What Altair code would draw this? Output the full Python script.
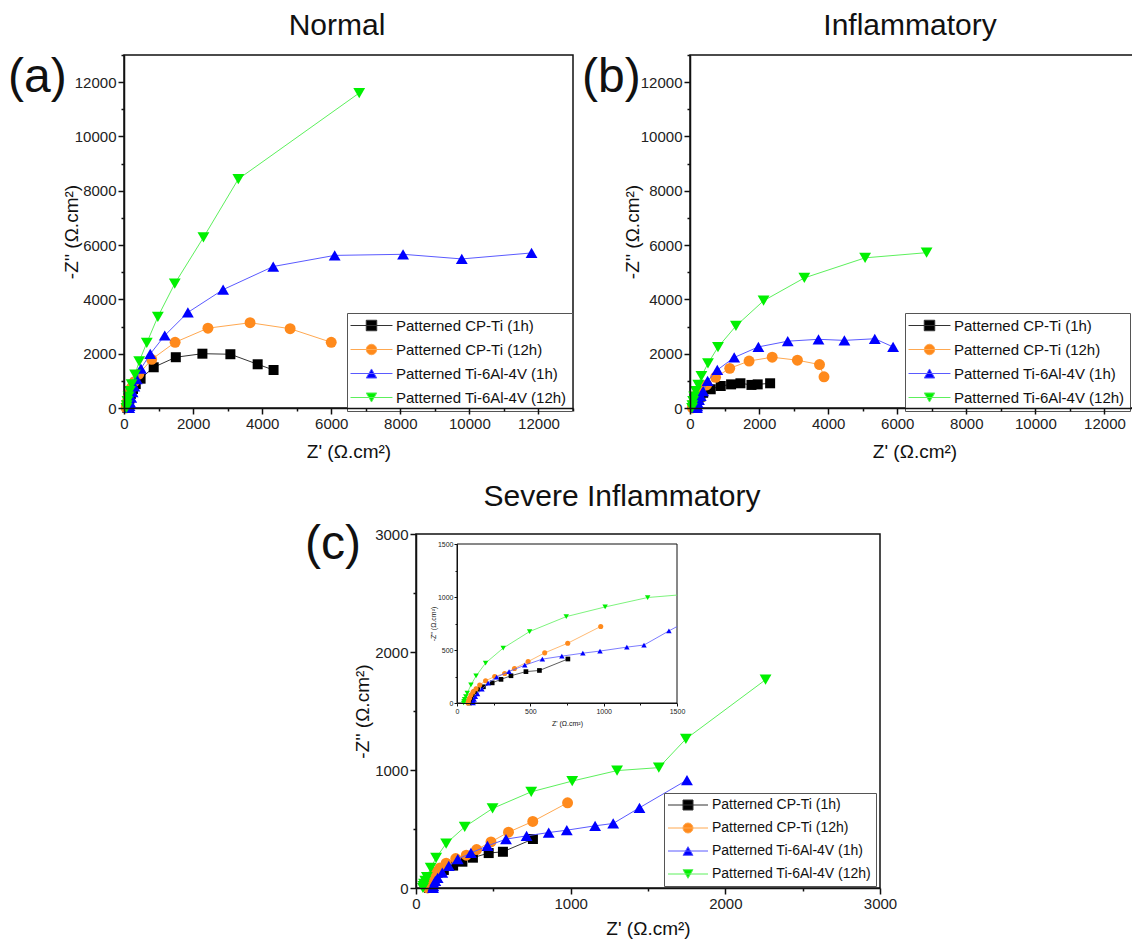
import altair as alt
import pandas as pd

SERIES = ["Patterned CP-Ti (1h)", "Patterned CP-Ti (12h)",
          "Patterned Ti-6Al-4V (1h)", "Patterned Ti-6Al-4V (12h)"]
MARK_COLORS = ["#000000", "#FF8A1C", "#0000FF", "#00F000"]
LINE_COLORS = ["#333333", "#FFA850", "#5A5AFF", "#5CF05C"]
SHAPES = ["square", "circle", "triangle-up", "triangle-down"]
LEG_PATHS = ["M-4,0H4M-1,-1H1V1H-1Z",
             "M-4,0H4M-1,0A1,1,0,1,1,1,0A1,1,0,1,1,-1,0Z",
             "M-4,0H4M0,-0.866L-1,0.866L1,0.866Z",
             "M-4,0H4M0,0.866L-1,-0.866L1,-0.866Z"]
PANEL_TITLES = ["Normal", "Inflammatory", "Severe Inflammatory"]
PANEL_LABELS = ["(a)", "(b)", "(c)"]
X_TITLE = "Z' (\u03a9.cm\u00b2)"
Y_TITLE = "-Z'' (\u03a9.cm\u00b2)"
FONT = "Liberation Sans"

# ---- Panel (a) Normal ----
a_x_cp1 = [100, 115, 135, 160, 200, 260, 340, 480, 860, 1500, 2270, 3080, 3870, 4330]
a_y_cp1 = [0, 80, 200, 350, 520, 700, 880, 1080, 1500, 1870, 2000, 1980, 1610, 1400]
a_x_cp12 = [60, 70, 90, 120, 160, 220, 300, 430, 800, 1480, 2430, 3650, 4810, 6000]
a_y_cp12 = [0, 90, 220, 380, 560, 760, 970, 1250, 1790, 2420, 2940, 3140, 2920, 2420]
a_x_ti1 = [150, 160, 180, 210, 250, 300, 370, 490, 760, 1180, 1850, 2870, 4320, 6100, 8080, 9780, 11800]
a_y_ti1 = [0, 80, 200, 380, 580, 800, 1060, 1450, 1990, 2670, 3520, 4360, 5210, 5620, 5660, 5490, 5710]
a_x_ti12 = [70, 80, 100, 130, 170, 220, 320, 440, 660, 980, 1470, 2300, 3310, 6810]
a_y_ti12 = [0, 100, 250, 420, 620, 870, 1230, 1720, 2400, 3360, 4580, 6280, 8430, 11600]

# ---- Panel (b) Inflammatory ----
b_x_cp1 = [150, 170, 200, 240, 300, 380, 600, 890, 1190, 1460, 1780, 1960, 2320]
b_y_cp1 = [0, 80, 180, 300, 420, 560, 690, 810, 870, 910, 850, 870, 910]
b_x_cp12 = [70, 80, 100, 140, 200, 300, 480, 740, 1150, 1710, 2380, 3110, 3750, 3880]
b_y_cp12 = [0, 80, 200, 350, 500, 650, 850, 1130, 1460, 1730, 1870, 1760, 1600, 1150]
b_x_ti1 = [200, 210, 230, 260, 310, 380, 510, 790, 1280, 1980, 2830, 3720, 4470, 5350, 5880]
b_y_ti1 = [0, 70, 170, 300, 450, 620, 1000, 1400, 1860, 2250, 2460, 2530, 2490, 2550, 2250]
b_x_ti12 = [60, 70, 90, 120, 170, 240, 330, 520, 810, 1330, 2130, 3310, 5070, 6850]
b_y_ti12 = [0, 100, 250, 420, 620, 850, 1170, 1640, 2240, 3020, 3950, 4790, 5530, 5720]

# ---- Panel (c) Severe Inflammatory ----
c_x_cp1 = [85, 88, 95, 105, 120, 140, 180, 240, 300, 368, 470, 562, 756]
c_y_cp1 = [0, 20, 45, 75, 105, 130, 153, 190, 223, 257, 296, 307, 415]
c_x_cp12 = [75, 78, 85, 95, 110, 130, 155, 195, 257, 325, 392, 485, 598, 755, 980]
c_y_cp12 = [0, 20, 45, 75, 105, 135, 170, 210, 250, 278, 326, 391, 473, 564, 722]
c_x_ti1 = [110, 112, 117, 125, 140, 170, 212, 270, 355, 462, 582, 715, 858, 975, 1158, 1275, 1445, 1752]
c_y_ti1 = [0, 15, 35, 60, 85, 130, 187, 244, 297, 357, 414, 442, 470, 490, 527, 547, 680, 915]
c_x_ti12 = [45, 48, 52, 60, 70, 95, 130, 195, 315, 495, 745, 1010, 1300, 1570, 1745, 2260]
c_y_ti12 = [0, 15, 35, 60, 93, 170, 255, 377, 518, 674, 815, 906, 995, 1020, 1263, 1765]
# where the inset's lines leave its right edge (Z' = 1500)
inset_edge_series = ["Patterned Ti-6Al-4V (1h)", "Patterned Ti-6Al-4V (12h)"]
inset_edge_x = [1500, 1500]
inset_edge_y = [721, 1018]


def make_df(xs_list, ys_list):
    rows = []
    for s, xs, ys in zip(SERIES, xs_list, ys_list):
        for i, (x, y) in enumerate(zip(xs, ys)):
            rows.append({"series": s, "i": i, "x": x, "y": y})
    return pd.DataFrame(rows)


df_a = make_df([a_x_cp1, a_x_cp12, a_x_ti1, a_x_ti12], [a_y_cp1, a_y_cp12, a_y_ti1, a_y_ti12])
df_b = make_df([b_x_cp1, b_x_cp12, b_x_ti1, b_x_ti12], [b_y_cp1, b_y_cp12, b_y_ti1, b_y_ti12])
df_c = make_df([c_x_cp1, c_x_cp12, c_x_ti1, c_x_ti12], [c_y_cp1, c_y_cp12, c_y_ti1, c_y_ti12])
df_inset_pts = df_c[df_c["x"] <= 1500]
df_inset_line = pd.concat([df_inset_pts, pd.DataFrame({"series": inset_edge_series, "i": [99, 99],
                                                       "x": inset_edge_x, "y": inset_edge_y})],
                          ignore_index=True)

W, H = 1132, 940


def mk_axis(values, major, orient, offset, fs=15, tick_major=6, tick_minor=3, lpad=2,
            tfs=19, **kw):
    return alt.Axis(values=values, format="d", orient=orient, offset=offset, zindex=1,
                    labelExpr=f"datum.value % {major} === 0 ? datum.label : ''",
                    tickSize={"condition": {"test": f"datum.value % {major} !== 0", "value": tick_minor},
                              "value": tick_major},
                    grid=False, labelFlush=False, labelOverlap=False, labelFontSize=fs,
                    labelPadding=lpad, titleFontSize=tfs, titleBaseline="middle", **kw)


def panel(dline, dpts, dom, xr, yr, xvals, yvals, major, xoff, yoff, sizes, lw,
          fs=15, tick_major=6, tick_minor=3, tfs=19, title_x=-53, title_y=43,
          frame_w=1.5, legend=None):
    xs = alt.Scale(domain=[0, dom], range=xr, nice=False, zero=False)
    ys = alt.Scale(domain=[0, dom], range=yr, nice=False, zero=False)
    xax = mk_axis(xvals, major, "bottom", xoff, fs, tick_major, tick_minor,
                  lpad=2 if fs > 10 else 1, tfs=tfs, titleY=title_y,
                  domainWidth=frame_w, tickWidth=frame_w)
    yax = mk_axis(yvals, major, "left", yoff, fs, tick_major, tick_minor,
                  lpad=2 if fs > 10 else 1, tfs=tfs, titleX=title_x,
                  domainWidth=frame_w, tickWidth=frame_w)
    layers = [alt.Chart(pd.DataFrame({"k": [0]}))
              .mark_rect(fill="white", stroke="#111", strokeWidth=frame_w)
              .encode(x=alt.X(datum=0, type="quantitative", scale=xs, axis=xax, title=X_TITLE),
                      x2=alt.X2(datum=dom),
                      y=alt.Y(datum=0, type="quantitative", scale=ys, axis=yax, title=Y_TITLE),
                      y2=alt.Y2(datum=dom))]
    for k, s in enumerate(SERIES):
        enc_x = alt.X("x:Q", scale=xs, axis=xax, title=X_TITLE)
        enc_y = alt.Y("y:Q", scale=ys, axis=yax, title=Y_TITLE)
        layers.append(alt.Chart(dline).transform_filter(alt.datum.series == s)
                      .mark_line(color=LINE_COLORS[k], strokeWidth=lw)
                      .encode(x=enc_x, y=enc_y, order="i:Q"))
        layers.append(alt.Chart(dpts).transform_filter(alt.datum.series == s)
                      .mark_point(shape=SHAPES[k], filled=True, color=MARK_COLORS[k],
                                  size=sizes[k], opacity=1)
                      .encode(x=enc_x, y=enc_y))
    if legend is not None:
        lx, ly, lfs, symsize = legend
        leg = alt.Legend(orient="none", legendX=lx, legendY=ly, title=None,
                         strokeColor="#555", fillColor="white", padding=5,
                         symbolSize=symsize, symbolStrokeWidth=1, symbolOffset=12,
                         symbolOpacity=1, labelOffset=17, labelFontSize=lfs, labelFont=FONT,
                         labelColor="#111", rowPadding=23 - lfs, labelLimit=400)
        layers.append(alt.Chart(dpts).transform_filter("false")
                      .mark_point(filled=True, opacity=1, strokeWidth=1)
                      .encode(fill=alt.Fill("series:N", scale=alt.Scale(domain=SERIES, range=MARK_COLORS), legend=leg),
                              stroke=alt.Stroke("series:N", scale=alt.Scale(domain=SERIES, range=LINE_COLORS), legend=leg),
                              shape=alt.Shape("series:N", scale=alt.Scale(domain=SERIES, range=LEG_PATHS), legend=leg)))
    return alt.layer(*layers)


def text_layer(text, px, py, fs, align="center"):
    return (alt.Chart(pd.DataFrame({"label": [text]}))
            .mark_text(font=FONT, fontSize=fs, align=align, baseline="middle", color="#111")
            .encode(text="label:N", x=alt.value(px), y=alt.value(py)))


big_vals = list(range(0, 13001, 1000))
c_vals = list(range(0, 3001, 500))
i_vals = list(range(0, 1501, 250))
SIZES = [100, 120, 140, 140]

# panel boxes in page pixels: (a) 124-573 x 55-408, (b) 690-1139 x 55-408,
# (c) 416-880 x 534-888, inset 457-677 x 544-703
A = panel(df_a, df_a, 13000, [124, 573], [408, 55], big_vals, big_vals, 2000,
          408 - H, -124, SIZES, 1, title_x=-53, legend=(347, 313, 15, 110))
B = panel(df_b, df_b, 13000, [690, 1139], [408, 55], big_vals, big_vals, 2000,
          408 - H, -690, SIZES, 1, title_x=-58, legend=(905, 313, 15, 110))
C = panel(df_c, df_c, 3000, [416, 880], [888, 534], c_vals, c_vals, 1000,
          888 - H, -416, SIZES, 1, title_x=-54, title_y=40, legend=(664, 793, 14, 100))
I = panel(df_inset_line, df_inset_pts, 1500, [457, 677], [703, 544], i_vals, i_vals, 500,
          703 - H, -457, [22, 26, 30, 30], 0.8, fs=7, tick_major=3, tick_minor=2, tfs=7,
          title_x=-24, title_y=20, frame_w=1)

texts = [text_layer(PANEL_TITLES[0], 337, 26, 30),
         text_layer(PANEL_TITLES[1], 910, 26, 30),
         text_layer(PANEL_TITLES[2], 622, 497, 30),
         text_layer(PANEL_LABELS[0], 8, 78, 48, "left"),
         text_layer(PANEL_LABELS[1], 582, 78, 48, "left"),
         text_layer(PANEL_LABELS[2], 305, 545, 48, "left")]

chart = (alt.layer(A, B, C, I, *texts)
         .resolve_scale(x="independent", y="independent", fill="independent",
                        stroke="independent", shape="independent")
         .properties(width=W, height=H, padding=0, background="white",
                     autosize=alt.AutoSizeParams(type="none"))
         .configure_view(stroke="transparent")
         .configure_legend(labelFont=FONT, labelFontSize=15, labelColor="#111")
         .configure_axis(labelFont=FONT, titleFont=FONT, titleFontWeight="normal",
                         labelColor="#222", titleColor="#111", domainColor="#111",
                         tickColor="#111"))

chart.save("out.html", embed_options={"renderer": "svg", "actions": False})
